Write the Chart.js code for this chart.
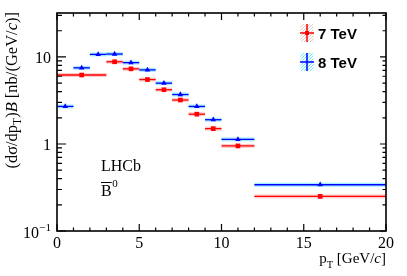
<!DOCTYPE html>
<html><head><meta charset="utf-8">
<script src="https://cdn.jsdelivr.net/npm/chart.js@4/dist/chart.umd.min.js"></script>
<style>html,body{margin:0;padding:0;background:#fff}#c{display:block}</style>
</head><body>
<canvas id="c" width="407" height="276"></canvas>
<script>
// ---- data ----
const red7Low  = [0, 3, 4, 5, 6, 7, 8, 9, 10, 12];
const red7High = [3, 4, 5, 6, 7, 8, 9, 10, 12, 20];
const red7X    = [1.5, 3.5, 4.5, 5.5, 6.5, 7.5, 8.5, 9.5, 11, 16];
const red7Y    = [6.2, 8.8, 7.3, 5.5, 4.2, 3.2, 2.2, 1.5, 0.95, 0.25];

const blue8Low  = [0, 1, 2, 3, 4, 5, 6, 7, 8, 9, 10, 12];
const blue8High = [1, 2, 3, 4, 5, 6, 7, 8, 9, 10, 12, 20];
const blue8X    = [0.5, 1.5, 2.5, 3.5, 4.5, 5.5, 6.5, 7.5, 8.5, 9.5, 11, 16];
const blue8Y    = [2.7, 7.5, 10.7, 10.8, 8.6, 7.1, 5.0, 3.7, 2.7, 1.9, 1.13, 0.34];

const xTicks = [0, 5, 10, 15, 20];
const xTickLabels = ["0", "5", "10", "15", "20"];
const yTicks = [0.1, 1, 10];
const yTickLabels = [["10", "\u22121"], ["1", ""], ["10", ""]];
const seriesNames = ["7 TeV", "8 TeV"];

const SERIF = '"Liberation Serif", "DejaVu Serif", serif';
const SANS = '"Liberation Sans", Arial, sans-serif';

function runsWidth(ctx, runs, size) {
  let w = 0;
  for (const r of runs) {
    const s = r.sub || r.sup ? size * 0.7 : size;
    ctx.font = (r.it ? 'italic ' : '') + s + 'px ' + SERIF;
    w += ctx.measureText(r.t).width;
  }
  return w;
}
function drawRuns(ctx, runs, x, y, size) {
  for (const r of runs) {
    const s = r.sub || r.sup ? size * 0.7 : size;
    ctx.font = (r.it ? 'italic ' : '') + s + 'px ' + SERIF;
    let dy = r.sub ? size * 0.3 : (r.sup ? -size * 0.42 : 0);
    ctx.fillText(r.t, x, y + dy);
    x += ctx.measureText(r.t).width;
  }
}

const decor = {
  id: 'decor',
  beforeDatasetsDraw(chart) {
    const ctx = chart.ctx, xs = chart.scales.x, ys = chart.scales.y;
    const a = chart.chartArea;
    ctx.save();
    ctx.beginPath(); ctx.rect(a.left, a.top, a.right - a.left, a.bottom - a.top); ctx.clip();
    const drawBars = (lo, hi, yv, band, line) => {
      for (let i = 0; i < yv.length; i++) {
        const x1 = xs.getPixelForValue(lo[i]), x2 = xs.getPixelForValue(hi[i]);
        const py = ys.getPixelForValue(yv[i]);
        ctx.fillStyle = band;
        ctx.fillRect(x1, py - 2, x2 - x1, 4);
        ctx.strokeStyle = line; ctx.lineWidth = 1.3;
        ctx.beginPath(); ctx.moveTo(x1, py); ctx.lineTo(x2, py); ctx.stroke();
      }
    };
    drawBars(blue8Low, blue8High, blue8Y, 'rgba(0,200,255,0.35)', '#0000ff');
    drawBars(red7Low, red7High, red7Y, 'rgba(255,80,80,0.3)', '#ff0000');
    ctx.restore();
  },
  afterDraw(chart) {
    const ctx = chart.ctx, xs = chart.scales.x, ys = chart.scales.y;
    const a = chart.chartArea;
    ctx.save();
    ctx.strokeStyle = '#000'; ctx.fillStyle = '#000';
    // frame
    ctx.lineWidth = 1.6;
    ctx.strokeRect(a.left, a.top, a.right - a.left, a.bottom - a.top);
    ctx.lineWidth = 1.2;
    // x ticks
    for (let v = xs.min; v <= xs.max; v += 1) {
      const px = xs.getPixelForValue(v);
      const len = (v % 5 === 0) ? 7 : 3.5;
      ctx.beginPath();
      ctx.moveTo(px, a.bottom); ctx.lineTo(px, a.bottom - len);
      ctx.moveTo(px, a.top); ctx.lineTo(px, a.top + len);
      ctx.stroke();
    }
    // y ticks
    for (let d = 0.1; d < 100; d *= 10) {
      for (let m = 1; m <= 9; m++) {
        const v = d * m;
        if (v < ys.min - 1e-9 || v > ys.max) continue;
        const py = ys.getPixelForValue(v);
        const len = m === 1 ? 9 : 5;
        const lenR = m === 1 ? 6 : 3.5;
        ctx.beginPath();
        ctx.moveTo(a.left, py); ctx.lineTo(a.left + len, py);
        ctx.moveTo(a.right, py); ctx.lineTo(a.right - lenR, py);
        ctx.stroke();
      }
    }
    // x tick labels
    ctx.textAlign = 'center'; ctx.textBaseline = 'alphabetic';
    ctx.font = '16px ' + SERIF;
    xTicks.forEach((v, i) => ctx.fillText(xTickLabels[i], xs.getPixelForValue(v), a.bottom + 17));
    // y tick labels
    ctx.textAlign = 'left';
    yTicks.forEach((v, i) => {
      const py = ys.getPixelForValue(v) + 6.5;
      const runs = [{ t: yTickLabels[i][0] }];
      if (yTickLabels[i][1]) runs.push({ t: yTickLabels[i][1], sup: true });
      const w = runsWidth(ctx, runs, 16);
      drawRuns(ctx, runs, 51 - w, py, 16);
    });
    // x title
    const xt = [{ t: 'p' }, { t: 'T', sub: true }, { t: ' [GeV/' }, { t: 'c', it: true }, { t: ']' }];
    const xw = runsWidth(ctx, xt, 15);
    drawRuns(ctx, xt, a.right - xw, 263, 15);
    // y title
    const yt = [{ t: '(d\u03c3/dp' }, { t: 'T', sub: true }, { t: ')' }, { t: 'B', it: true },
                { t: ' [nb/(GeV/' }, { t: 'c', it: true }, { t: ')]' }];
    const yw = runsWidth(ctx, yt, 16.5);
    ctx.save();
    ctx.translate(16.5, a.top - 1);
    ctx.rotate(-Math.PI / 2);
    drawRuns(ctx, yt, -yw, 0, 16.5);
    ctx.restore();
    // LHCb label
    ctx.font = '16px ' + SERIF;
    ctx.fillText('LHCb', 101, 171);
    ctx.fillText('B', 101, 196);
    const bw = ctx.measureText('B').width;
    ctx.lineWidth = 1;
    ctx.beginPath(); ctx.moveTo(101, 182.5); ctx.lineTo(101 + bw, 182.5); ctx.stroke();
    ctx.font = '11px ' + SERIF;
    ctx.fillText('0', 101 + bw + 0.5, 187);
    // legend
    const leg = [
      { y: 33, c: '#ff0000', band: 'rgba(200,160,140,0.55)', name: seriesNames[0], style: 'rect' },
      { y: 62, c: '#0000ff', band: 'rgba(0,230,255,0.6)', name: seriesNames[1], style: 'tri' }
    ];
    for (const l of leg) {
      const cx = 307;
      ctx.save();
      ctx.beginPath(); ctx.rect(cx - 6.5, l.y - 9, 13, 18); ctx.clip();
      ctx.strokeStyle = l.band; ctx.lineWidth = 1;
      for (let k = -30; k < 30; k += 3) {
        ctx.beginPath(); ctx.moveTo(cx - 7 + k, l.y + 10); ctx.lineTo(cx - 7 + k + 20, l.y - 10); ctx.stroke();
      }
      ctx.restore();
      ctx.strokeStyle = l.c; ctx.lineWidth = 1.5;
      ctx.beginPath();
      ctx.moveTo(cx - 7, l.y); ctx.lineTo(cx + 7, l.y);
      ctx.moveTo(cx, l.y - 9); ctx.lineTo(cx, l.y + 9);
      ctx.stroke();
      ctx.fillStyle = l.c;
      if (l.style === 'rect') ctx.fillRect(cx - 2, l.y - 2, 4, 4);
      ctx.fillStyle = '#000';
      ctx.font = 'bold 15px ' + SANS;
      ctx.textAlign = 'left';
      ctx.fillText(l.name, 318, l.y + 5.5);
    }
    ctx.restore();
  }
};

const toPts = (xv, yv) => xv.map((x, i) => ({ x: x, y: yv[i] }));

new Chart(document.getElementById('c'), {
  type: 'scatter',
  data: {
    datasets: [
      { label: seriesNames[1], data: toPts(blue8X, blue8Y), pointStyle: 'triangle', pointRadius: 3.2,
        backgroundColor: '#0000ff', borderColor: '#0000ff', borderWidth: 0 },
      { label: seriesNames[0], data: toPts(red7X, red7Y), pointStyle: 'rect', pointRadius: 3.3,
        backgroundColor: '#ff0000', borderColor: '#ff0000', borderWidth: 0 }
    ]
  },
  options: {
    responsive: false, animation: false, devicePixelRatio: 1,
    layout: { padding: { left: 57, right: 21, top: 13, bottom: 45 } },
    plugins: { legend: { display: false }, tooltip: { enabled: false } },
    scales: {
      x: { type: 'linear', min: 0, max: 20, display: false },
      y: { type: 'logarithmic', min: 0.1, max: 32, display: false }
    }
  },
  plugins: [decor]
});
</script>
</body></html>
